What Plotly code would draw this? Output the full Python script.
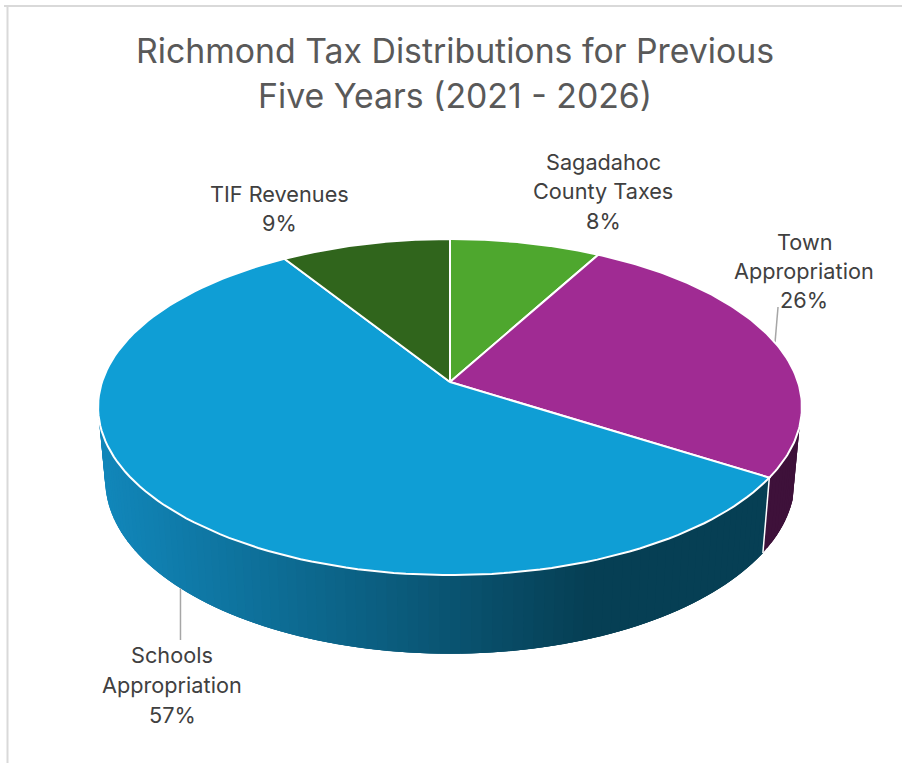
import numpy as np
import plotly.graph_objects as go

# Slice data, clockwise from twelve o'clock
categories = ["Sagadahoc County Taxes", "Town Appropriation", "Schools Appropriation", "TIF Revenues"]
values = [8, 26, 57, 9]
title_lines = ["Richmond Tax Distributions for Previous", "Five Years (2021 - 2026)"]
label_lines = [["Sagadahoc", "County Taxes"], ["Town", "Appropriation"], ["Schools", "Appropriation"], ["TIF Revenues"]]

top_colors = ["#4EA72E", "#A02B93", "#0F9ED5", "#30651C"]
# Side wall colour at the lit (left) end and the shaded (right) end of each slice
wall_light = [None, "#3E113A", "#1186B9", None]
wall_dark = [None, "#3E113A", "#063F54", None]

FONT = "Inter"
TITLE_COLOR = "#595959"
LABEL_COLOR = "#404040"
BORDER_COLOR = "#D9D9D9"
LEADER_COLOR = "#A6A6A6"

# Projection of the tilted disc: centre, half axes and foreshortening
CX = 450.0
TOP = dict(cy=382.0, a=348.0, b=164.3)
BOTTOM = dict(cy=454.0, a=341.0, b=170.0)
K = 0.149

# Part of the wall that faces the viewer, as disc angles in degrees
WALL_FROM, WALL_TO = -195.0, -15.0
SHADE_X0, SHADE_X1 = 105.0, 590.0
WALL_STEP = 1.5

# Label anchors: centre x, y of each text line
label_pos = [(603, [162, 191, 221]), (804, [242, 271, 300]), (172, [655, 685, 715]), (279, [194, 223])]
title_pos = (455, [50, 95])
# Leader lines: which rim they leave from and where they stop
leader_spec = [None, (TOP, 3, 307), (BOTTOM, 0, 640), None]


def project(theta_deg, disc):
    t = np.radians(theta_deg)
    w = 1 + K * np.sin(t)
    return CX + disc["a"] * np.cos(t) / w, disc["cy"] - disc["b"] * np.sin(t) / w


def hex_rgb(h):
    return np.array([int(h[i:i + 2], 16) for i in (1, 3, 5)], float)


def mix(c0, c1, u):
    r, g, b = (1 - u) * hex_rgb(c0) + u * hex_rgb(c1)
    return f"rgb({r:.0f},{g:.0f},{b:.0f})"


shares = np.array(values, float) / sum(values)
edges = np.concatenate([[0.0], np.cumsum(shares)]) * 360.0
# Disc angle runs counter-clockwise from three o'clock; slices run clockwise from the top
start_theta = 90.0 - edges[:-1]
end_theta = 90.0 - edges[1:]

fig = go.Figure()


def poly(xs, ys, fill, line_color, width):
    fig.add_trace(go.Scatter(x=xs, y=ys, mode="lines", fill="toself", fillcolor=fill,
                             line=dict(color=line_color, width=width), hoverinfo="skip", showlegend=False))


# Side wall, drawn as narrow quads so the shading can change along the rim.
# Each quad runs on to the end of its slice and is painted over by the next, which avoids hairline gaps.
for i in range(len(values)):
    if wall_light[i] is None:
        continue
    lo = max(end_theta[i], WALL_FROM)
    hi = min(start_theta[i], WALL_TO)
    if lo >= hi:
        continue
    for t0 in np.arange(lo, hi, WALL_STEP):
        t_mid = min(t0 + WALL_STEP / 2, hi)
        t1 = min(t0 + 3 * WALL_STEP, hi)
        x0, y0 = project(t0, TOP)
        x1, y1 = project(t1, TOP)
        bx0, by0 = project(t0, BOTTOM)
        bx1, by1 = project(t1, BOTTOM)
        u = float(np.clip((project(t_mid, TOP)[0] - SHADE_X0) / (SHADE_X1 - SHADE_X0), 0, 1))
        poly([x0, x1, bx1, bx0, x0], [y0, y1, by1, by0, y0], mix(wall_light[i], wall_dark[i], u), "rgba(0,0,0,0)", 0)

# White seam where one slice's wall meets the next
for i in range(len(values)):
    if WALL_FROM <= end_theta[i] <= WALL_TO:
        x0, y0 = project(end_theta[i], TOP)
        x1, y1 = project(end_theta[i], BOTTOM)
        fig.add_trace(go.Scatter(x=[x0, x1], y=[y0, y1], mode="lines", line=dict(color="white", width=1.5),
                                 hoverinfo="skip", showlegend=False))

# Leader lines from the rim to the labels
for i, spec in enumerate(leader_spec):
    if spec is None:
        continue
    disc, dx, y_end = spec
    x0, y0 = project(0.5 * (start_theta[i] + end_theta[i]), disc)
    fig.add_trace(go.Scatter(x=[x0, x0 + dx], y=[y0, y_end], mode="lines", line=dict(color=LEADER_COLOR, width=1.5),
                             hoverinfo="skip", showlegend=False))

# Top face of the pie
for i in range(len(values)):
    th = np.linspace(start_theta[i], end_theta[i], 120)
    xs, ys = project(th, TOP)
    xs = np.concatenate([[CX], xs, [CX]])
    ys = np.concatenate([[TOP["cy"]], ys, [TOP["cy"]]])
    poly(xs, ys, top_colors[i], "white", 2)

annotations = []


def add_text(x, y, text, size, color):
    annotations.append(dict(x=x, y=y, xref="x", yref="y", text=text, showarrow=False, xanchor="center", yanchor="middle",
                            font=dict(family=FONT, size=size, color=color)))


for line, y in zip(title_lines, title_pos[1]):
    add_text(title_pos[0], y, line, 33.8, TITLE_COLOR)

for i in range(len(values)):
    lx, ys = label_pos[i]
    lines = label_lines[i] + [f"{values[i]}%"]
    for line, y in zip(lines, ys):
        add_text(lx, y, line, 21.7, LABEL_COLOR)

# Chart frame, visible along the top and left only
frame = [dict(type="line", x0=4, x1=902, y0=6, y1=6, line=dict(color=BORDER_COLOR, width=2)),
         dict(type="line", x0=7.5, x1=7.5, y0=5, y1=763, line=dict(color=BORDER_COLOR, width=2))]

fig.update_layout(width=902, height=763, autosize=False, margin=dict(l=0, r=0, t=0, b=0),
                  paper_bgcolor="white", plot_bgcolor="white", showlegend=False,
                  xaxis=dict(range=[0, 902], visible=False, fixedrange=True),
                  yaxis=dict(range=[763, 0], visible=False, fixedrange=True),
                  annotations=annotations, shapes=frame)

fig.write_html("out.html", config=dict(displayModeBar=False))
